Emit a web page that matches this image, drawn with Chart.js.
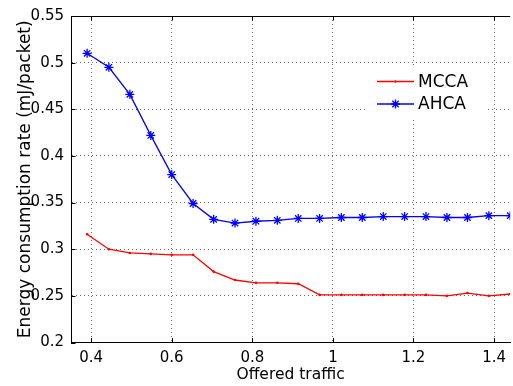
<!DOCTYPE html>
<html>
<head>
<meta charset="utf-8">
<script src="https://cdn.jsdelivr.net/npm/chart.js@4"></script>
<style>
  html, body { margin: 0; padding: 0; background: #fff; }
  canvas { display: block; }
</style>
</head>
<body>
<canvas id="energyChart" width="513" height="386"></canvas>
<script>
// Offered traffic (x) and energy consumption per packet for each scheme
const offeredTraffic = [0.390, 0.444, 0.496, 0.548, 0.600, 0.653, 0.704, 0.757, 0.809, 0.862, 0.914,
                        0.967, 1.021, 1.073, 1.125, 1.178, 1.231, 1.283, 1.334, 1.387, 1.440];
const mccaEnergy = [0.316, 0.300, 0.296, 0.295, 0.294, 0.294, 0.276, 0.267, 0.264, 0.264, 0.263,
                    0.251, 0.251, 0.251, 0.251, 0.251, 0.251, 0.250, 0.253, 0.250, 0.252];
const ahcaEnergy = [0.510, 0.495, 0.466, 0.422, 0.380, 0.349, 0.332, 0.328, 0.330, 0.331, 0.333,
                    0.333, 0.334, 0.334, 0.335, 0.335, 0.335, 0.334, 0.334, 0.336, 0.336];
const seriesNames = ['MCCA', 'AHCA'];
const xTicks = [0.4, 0.6, 0.8, 1.0, 1.2, 1.4];
const xTickLabels = ['0.4', '0.6', '0.8', '1', '1.2', '1.4'];
const yTicks = [0.2, 0.25, 0.3, 0.35, 0.4, 0.45, 0.5, 0.55];
const yTickLabels = ['0.2', '0.25', '0.3', '0.35', '0.4', '0.45', '0.5', '0.55'];

const FONT = 'DejaVu Sans';

function toPoints(xs, ys) {
  return xs.map((v, i) => ({ x: v, y: ys[i] }));
}

// Top edge of the axes box, inward tick marks and the boxed legend
const boxAndLegend = {
  id: 'boxAndLegend',
  afterDatasetsDraw(chart) {
    const { ctx, chartArea: a, scales } = chart;
    const xs = scales.x, ys = scales.y;
    const tickLen = 4.5;
    ctx.save();
    ctx.strokeStyle = '#000';
    ctx.lineWidth = 1;
    ctx.beginPath();
    const topY = Math.round(a.top) + 0.5;
    ctx.moveTo(a.left, topY);
    ctx.lineTo(a.right, topY);
    xTicks.forEach(v => {
      const px = Math.round(xs.getPixelForValue(v)) + 0.5;
      ctx.moveTo(px, a.bottom);
      ctx.lineTo(px, a.bottom - tickLen);
      ctx.moveTo(px, a.top);
      ctx.lineTo(px, a.top + tickLen);
    });
    yTicks.forEach(v => {
      const py = Math.round(ys.getPixelForValue(v)) + 0.5;
      ctx.moveTo(a.left, py);
      ctx.lineTo(a.left + tickLen, py);
    });
    ctx.stroke();

    // legend
    const bx = 368, by = 65, bw = 117, bh = 52;
    ctx.fillStyle = '#fff';
    ctx.fillRect(bx, by, bw, bh);
    const rows = [81.5, 104];
    ctx.font = '17px "' + FONT + '"';
    ctx.textBaseline = 'middle';
    ctx.textAlign = 'left';
    chart.data.datasets.forEach((ds, i) => {
      const ly = rows[i];
      const x1 = 377, x2 = 414;
      ctx.strokeStyle = ds.borderColor;
      ctx.lineWidth = ds.borderWidth;
      ctx.beginPath();
      ctx.moveTo(x1, ly);
      ctx.lineTo(x2, ly);
      ctx.stroke();
      Chart.helpers.drawPoint(ctx, {
        pointStyle: ds.pointStyle,
        radius: ds.pointRadius,
        borderWidth: ds.pointBorderWidth,
        rotation: 0
      }, (x1 + x2) / 2, ly);
      if (ds.pointStyle === 'circle') {
        ctx.fillStyle = ds.pointBackgroundColor;
        ctx.beginPath();
        ctx.arc((x1 + x2) / 2, ly, ds.pointRadius, 0, Math.PI * 2);
        ctx.fill();
      }
      ctx.fillStyle = '#000';
      ctx.fillText(ds.label, 418, ly + 1);
    });
    ctx.restore();
  }
};

new Chart(document.getElementById('energyChart'), {
  type: 'line',
  data: {
    datasets: [
      {
        label: seriesNames[0],
        data: toPoints(offeredTraffic, mccaEnergy),
        borderColor: '#ff0000',
        backgroundColor: '#ff0000',
        borderWidth: 1.3,
        pointStyle: 'circle',
        pointRadius: 1.3,
        pointBorderWidth: 0,
        pointBackgroundColor: '#ff0000',
        pointBorderColor: '#ff0000',
        tension: 0,
        fill: false
      },
      {
        label: seriesNames[1],
        data: toPoints(offeredTraffic, ahcaEnergy),
        borderColor: '#0000ff',
        backgroundColor: '#0000ff',
        borderWidth: 1.3,
        pointStyle: 'star',
        pointRadius: 4.5,
        pointBorderWidth: 1.3,
        pointBackgroundColor: '#0000ff',
        pointBorderColor: '#0000ff',
        tension: 0,
        fill: false
      }
    ]
  },
  options: {
    responsive: false,
    animation: false,
    events: [],
    layout: { autoPadding: false, padding: { top: 10.5, left: 0, right: 0, bottom: 0 } },
    plugins: {
      legend: { display: false },
      tooltip: { enabled: false },
      title: { display: false }
    },
    scales: {
      x: {
        type: 'linear',
        min: 0.35,
        max: 1.44,
        afterBuildTicks: s => { s.ticks = xTicks.map(v => ({ value: v })); },
        afterFit: s => { s.height = 43.5; },
        ticks: {
          color: '#000',
          padding: 7,
          maxRotation: 0,
          autoSkip: false,
          font: { family: FONT, size: 15 },
          callback: (v, i) => xTickLabels[i]
        },
        grid: { color: '#666', lineWidth: 1, drawTicks: false },
        border: { display: true, color: '#000', width: 1, dash: [1, 3] },
        title: {
          display: true,
          text: 'Offered traffic',
          color: '#000',
          font: { family: FONT, size: 15.5 },
          padding: { top: 0, bottom: 2 }
        }
      },
      y: {
        type: 'linear',
        min: 0.2,
        max: 0.55,
        afterBuildTicks: s => { s.ticks = yTicks.map(v => ({ value: v })); },
        afterFit: s => { s.width = 71; },
        ticks: {
          color: '#000',
          padding: 7,
          autoSkip: false,
          font: { family: FONT, size: 15 },
          callback: (v, i) => yTickLabels[i]
        },
        grid: { color: '#666', lineWidth: 1, drawTicks: false },
        border: { display: true, color: '#000', width: 1, dash: [1, 3] },
        title: {
          display: true,
          text: 'Energy consumption rate (mJ/packet)',
          color: '#000',
          font: { family: FONT, size: 17 },
          padding: { top: 15, bottom: 0 }
        }
      }
    }
  },
  plugins: [boxAndLegend]
});
</script>
</body>
</html>
